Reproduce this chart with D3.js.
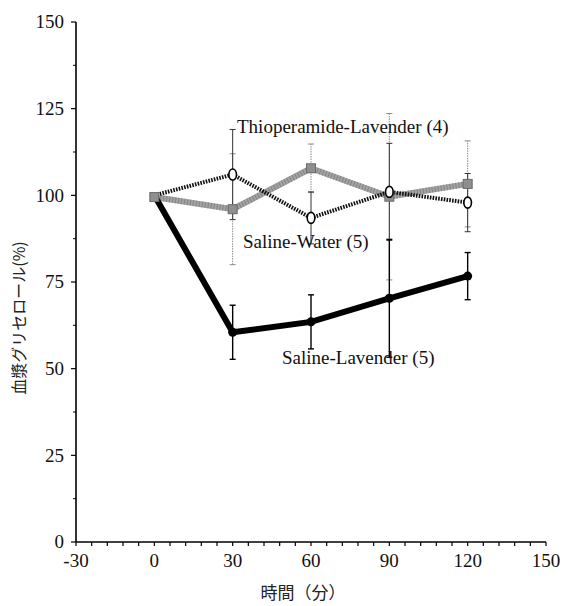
<!DOCTYPE html>
<html>
<head>
<meta charset="utf-8">
<script src="https://cdn.jsdelivr.net/npm/d3@7"></script>
<style>
  html, body { margin: 0; padding: 0; background: #fff; }
  svg { display: block; }
</style>
</head>
<body>
<svg id="chart" width="565" height="606"></svg>
<script>
// Time points (minutes)
const times = [0, 30, 60, 90, 120];

// Plasma glycerol (% of baseline), mean and error per group
const salineLavender    = [100, 60.5, 63.5, 70.3, 76.7];
const salineLavenderErr = [0, 7.8, 7.8, 17, 6.8];

const salineWater    = [100, 106, 93.5, 101, 97.9];
const salineWaterErr = [0, 13, 7.5, 14, 8.4];

const thioLavender    = [99.5, 96, 107.8, 99.6, 103.3];
const thioLavenderErr = [0, 16, 7, 24, 12.4];

// Axis ticks
const xTicks = [-30, 0, 30, 60, 90, 120, 150];
const xMinorTicks = d3.range(-30, 151, 6);
const yTicks = [0, 25, 50, 75, 100, 125, 150];
const yMinorTicks = d3.range(12.5, 150, 25);

// Series labels
const seriesLabels = ["Thioperamide-Lavender (4)", "Saline-Water (5)", "Saline-Lavender (5)"];
const yTitle = "血漿グリセロール(%)";
const xTitle = "時間（分）";

const SERIF = "'Liberation Serif', 'Times New Roman', 'DejaVu Serif', serif";
const CJK = "'Noto Sans CJK JP', sans-serif";

const svg = d3.select("#chart");

const x = d3.scaleLinear().domain([-30, 150]).range([76, 546]);
const y = d3.scaleLinear().domain([0, 150]).range([542, 22]);

// ---- axes ----
const axes = svg.append("g").attr("stroke", "#000").attr("fill", "none");
axes.append("line").attr("x1", x(-30)).attr("x2", x(150)).attr("y1", y(0)).attr("y2", y(0)).attr("stroke-width", 1.6);
axes.append("line").attr("x1", x(-30)).attr("x2", x(-30)).attr("y1", y(0)).attr("y2", y(150)).attr("stroke-width", 1.6);

axes.selectAll(".xminor").data(xMinorTicks).join("line")
  .attr("x1", d => x(d)).attr("x2", d => x(d))
  .attr("y1", y(0)).attr("y2", y(0) + 4).attr("stroke-width", 1.2);
axes.selectAll(".ymajor").data(yTicks).join("line")
  .attr("x1", x(-30) - 5).attr("x2", x(-30))
  .attr("y1", d => y(d)).attr("y2", d => y(d)).attr("stroke-width", 1.2);
axes.selectAll(".yminor").data(yMinorTicks).join("line")
  .attr("x1", x(-30) - 3).attr("x2", x(-30))
  .attr("y1", d => y(d)).attr("y2", d => y(d)).attr("stroke-width", 1);

svg.append("g").selectAll("text").data(xTicks).join("text")
  .attr("font-family", SERIF).attr("font-size", 19).attr("fill", "#111")
  .attr("x", d => x(d)).attr("y", 567)
  .attr("text-anchor", "middle")
  .text(d => d);

svg.append("g").selectAll("text").data(yTicks).join("text")
  .attr("font-family", SERIF).attr("font-size", 19).attr("fill", "#111")
  .attr("x", 64).attr("y", d => y(d))
  .attr("dy", "0.34em")
  .attr("text-anchor", "end")
  .text(d => d);

svg.append("text")
  .attr("font-family", CJK).attr("font-size", 16).attr("fill", "#222")
  .attr("transform", "translate(19,318) rotate(-90)")
  .attr("text-anchor", "middle").attr("dy", "0.35em")
  .text(yTitle);

svg.append("text")
  .attr("font-family", CJK).attr("font-size", 17).attr("fill", "#222")
  .attr("x", 303).attr("y", 599)
  .attr("text-anchor", "middle")
  .text(xTitle);

// ---- data helpers ----
function pts(vals, errs) {
  return times.map((t, i) => ({ t, v: vals[i], e: errs[i] }));
}
const sl = pts(salineLavender, salineLavenderErr);
const sw = pts(salineWater, salineWaterErr);
const th = pts(thioLavender, thioLavenderErr);

const line = d3.line().x(d => x(d.t)).y(d => y(d.v));

function errorBars(data, color, width, dash) {
  const g = svg.append("g").attr("stroke", color).attr("stroke-width", width).attr("fill", "none");
  const withErr = data.filter(d => d.e > 0);
  g.selectAll(".bar").data(withErr).join("line")
    .attr("x1", d => x(d.t)).attr("x2", d => x(d.t))
    .attr("y1", d => y(d.v - d.e)).attr("y2", d => y(d.v + d.e))
    .attr("stroke-dasharray", dash);
  g.selectAll(".capTop").data(withErr).join("line")
    .attr("x1", d => x(d.t) - 3).attr("x2", d => x(d.t) + 3)
    .attr("y1", d => y(d.v + d.e)).attr("y2", d => y(d.v + d.e));
  g.selectAll(".capBot").data(withErr).join("line")
    .attr("x1", d => x(d.t) - 3).attr("x2", d => x(d.t) + 3)
    .attr("y1", d => y(d.v - d.e)).attr("y2", d => y(d.v - d.e));
}

// error bars underneath the lines
errorBars(th, "#8a8a8a", 1, "1.5,1");
errorBars(sw, "#333", 1, null);
errorBars(sl, "#000", 1.4, null);

// Thioperamide-Lavender: thick grey textured line
svg.append("path").datum(th).attr("d", line)
  .attr("fill", "none").attr("stroke", "#a3a3a3").attr("stroke-width", 6)
  .attr("stroke-linejoin", "miter");
svg.append("path").datum(th).attr("d", line)
  .attr("fill", "none").attr("stroke", "#6f6f6f").attr("stroke-width", 6)
  .attr("stroke-dasharray", "1,2").attr("opacity", 0.6);

// Saline-Water: hatched black line
svg.append("path").datum(sw).attr("d", line)
  .attr("fill", "none").attr("stroke", "#111").attr("stroke-width", 4)
  .attr("stroke-dasharray", "1.6,1.2");

// Saline-Lavender: heavy black line
svg.append("path").datum(sl).attr("d", line)
  .attr("fill", "none").attr("stroke", "#000").attr("stroke-width", 6)
  .attr("stroke-linejoin", "miter");

// markers
svg.append("g").selectAll("rect").data(th).join("rect")
  .attr("x", d => x(d.t) - 4.5).attr("y", d => y(d.v) - 4.5)
  .attr("width", 9).attr("height", 9)
  .attr("fill", "#8f8f8f").attr("stroke", "#6a6a6a").attr("stroke-width", 1);

svg.append("g").selectAll("ellipse").data(sw.slice(1)).join("ellipse")
  .attr("cx", d => x(d.t)).attr("cy", d => y(d.v))
  .attr("rx", 3.8).attr("ry", 5.5)
  .attr("fill", "#fff").attr("stroke", "#000").attr("stroke-width", 1.6);

svg.append("g").selectAll("circle").data(sl.slice(1)).join("circle")
  .attr("cx", d => x(d.t)).attr("cy", d => y(d.v))
  .attr("r", 4.5).attr("fill", "#000");

// series labels
const labelPos = [[237, 133], [243, 248], [282, 364]];
svg.append("g").selectAll("text").data(seriesLabels).join("text")
  .attr("font-family", SERIF).attr("font-size", 19).attr("fill", "#111")
  .attr("x", (d, i) => labelPos[i][0]).attr("y", (d, i) => labelPos[i][1])
  .text(d => d);
</script>
</body>
</html>
